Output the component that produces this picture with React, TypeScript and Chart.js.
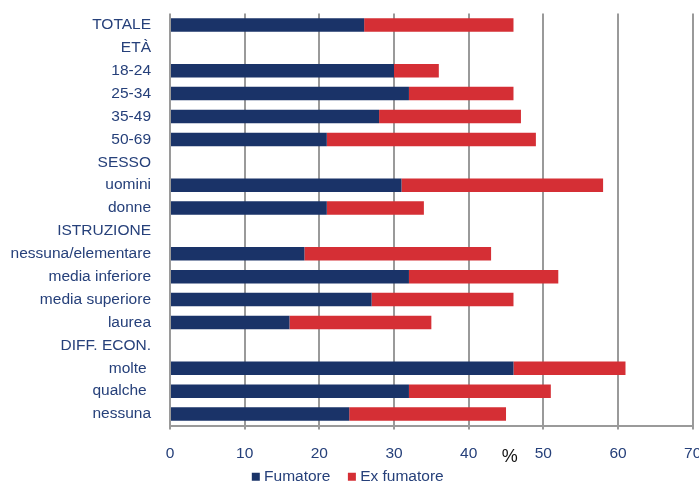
import React, { useEffect, useRef } from "react";
import { Chart, registerables } from "chart.js";

Chart.register(...registerables);

const categories = [
  "TOTALE", "ETÀ", "18-24", "25-34", "35-49", "50-69", "SESSO", "uomini", "donne",
  "ISTRUZIONE", "nessuna/elementare", "media inferiore", "media superiore", "laurea",
  "DIFF. ECON.", "molte ", "qualche ", "nessuna",
];
const fumatore = [26, null, 30, 32, 28, 21, null, 31, 21, null, 18, 32, 27, 16, null, 46, 32, 24];
const exFumatore = [20, null, 6, 14, 19, 28, null, 27, 13, null, 25, 20, 19, 19, null, 15, 19, 21];
const xTicks = [0, 10, 20, 30, 40, 50, 60, 70];
const seriesNames = ["Fumatore", "Ex fumatore"];

const NAVY = "#1a3368";
const RED = "#d52f35";
const TEXT = "#26407a";
const GRID = "#9a9a9a";
const FONT = "'Liberation Sans', Arial, sans-serif";
const FS = 15.5;
const LEGEND_PAD = 21;

const percentPlugin = {
  id: "percentLabel",
  afterLayout(chart: any) {
    const lg = chart.legend;
    if (!lg) return;
    const target = chart.chartArea.bottom + 51.2;
    const shift = target - (lg.top + LEGEND_PAD + FS / 2);
    lg.top += shift;
    lg.bottom += shift;
  },
  afterDraw(chart: any) {
    const xs = chart.scales.x;
    const ctx = chart.ctx;
    ctx.save();
    ctx.font = `18px ${FONT}`;
    ctx.fillStyle = "#111";
    ctx.textAlign = "center";
    ctx.textBaseline = "middle";
    ctx.fillText("%", xs.getPixelForValue(45.5), chart.chartArea.bottom + 32);
    ctx.restore();
  },
};

export default function App() {
  const ref = useRef<HTMLCanvasElement | null>(null);
  useEffect(() => {
    if (!ref.current) return;
    const chart = new Chart(ref.current, {
      type: "bar",
      data: {
        labels: categories,
        datasets: [
          { label: seriesNames[0], data: fumatore as any, backgroundColor: NAVY, borderWidth: 0 },
          { label: seriesNames[1], data: exFumatore as any, backgroundColor: RED, borderWidth: 0 },
        ],
      },
      options: {
        indexAxis: "y",
        responsive: false,
        animation: false,
        maintainAspectRatio: false,
        layout: { padding: { top: 13.5, bottom: -25, left: 0, right: 0 } },
        datasets: { bar: { barPercentage: 0.59, categoryPercentage: 1 } },
        scales: {
          x: {
            stacked: true,
            min: 0,
            max: 70,
            afterBuildTicks: (s: any) => {
              s.ticks = xTicks.map((v) => ({ value: v }));
            },
            afterFit: (s: any) => {
              s.height = 38;
              s.paddingLeft = 0;
              s.paddingRight = 6.3;
            },
            grid: { color: GRID, lineWidth: 2, drawTicks: true, tickLength: 4, tickColor: GRID },
            border: { display: true, color: GRID, width: 2 },
            ticks: { color: TEXT, font: { family: FONT, size: FS }, padding: 14.7, maxRotation: 0 },
          },
          y: {
            stacked: true,
            afterFit: (s: any) => {
              s.width = 170;
              s.paddingTop = 0;
              s.paddingBottom = 0;
            },
            grid: { display: false, drawTicks: false },
            border: { display: false },
            ticks: { color: TEXT, font: { family: FONT, size: FS }, padding: 19, autoSkip: false },
          },
        },
        plugins: {
          legend: {
            position: "bottom",
            labels: {
              color: TEXT,
              font: { family: FONT, size: FS },
              usePointStyle: true,
              pointStyle: "rect",
              boxWidth: 1,
              boxHeight: 8,
              padding: LEGEND_PAD,
            },
          },
          tooltip: { enabled: false },
        },
      },
      plugins: [percentPlugin],
    });
    return () => chart.destroy();
  }, []);
  return (
    <div style={{ position: "fixed", left: 0, top: 0, width: 699, height: 485, overflow: "hidden", background: "#fff" }}>
      <canvas ref={ref} width={699} height={485} style={{ width: 699, height: 485, display: "block" }} />
    </div>
  );
}
